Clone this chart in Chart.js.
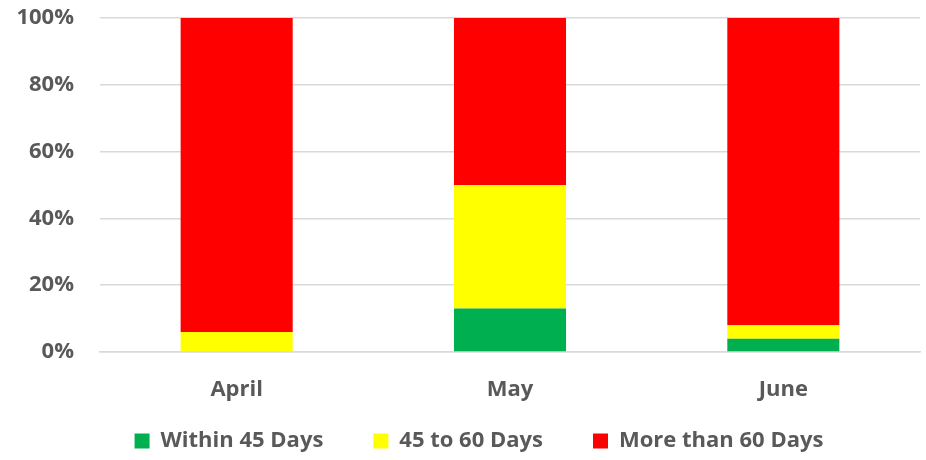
<!DOCTYPE html>
<html lang="en">
<head>
  <meta charset="UTF-8">
  <title>Days to close</title>
  <script src="https://cdn.jsdelivr.net/npm/chart.js@4.4.1/dist/chart.umd.min.js"></script>
  <style>
    html, body { margin: 0; padding: 0; background: #fff; }
    .chart-container { width: 926px; height: 460px; }
  </style>
</head>
<body>
  <div class="chart-container">
    <canvas id="barChart"></canvas>
  </div>
  <script>
    // months on the x axis
    var months = ['April', 'May', 'June'];
    // share of items in each bucket, percent
    var within45 = [0, 13, 4];
    var from45to60 = [6, 37, 4];
    var over60 = [94, 50, 92];
    var yTicks = [0, 20, 40, 60, 80, 100];

    var ctx = document.getElementById('barChart').getContext('2d');
    var labelFont = { family: '"Open Sans", sans-serif', size: 22, weight: 'bold' };

    // fixed legend height so the plot keeps its room,
    // and the legend row sits a bit right of the page centre
    var legendPlace = {
      id: 'legendPlace',
      beforeInit: function (chart) {
        var fit = chart.legend.fit;
        chart.legend.fit = function () {
          fit.bind(chart.legend)();
          this.height = 80;
        };
      },
      afterLayout: function (chart) {
        chart.legend.left += 38;
      }
    };

    new Chart(ctx, {
      type: 'bar',
      data: {
        labels: months,
        datasets: [
          { label: 'Within 45 Days', data: within45, backgroundColor: '#00b050' },
          { label: '45 to 60 Days', data: from45to60, backgroundColor: '#ffff00' },
          { label: 'More than 60 Days', data: over60, backgroundColor: '#ff0000' }
        ]
      },
      options: {
        responsive: true,
        maintainAspectRatio: false,
        animation: false,
        layout: { padding: { top: 0, right: 6, left: 0, bottom: 0 } },
        datasets: {
          bar: { categoryPercentage: 1, barPercentage: 0.41 }
        },
        plugins: {
          tooltip: { enabled: false },
          legend: {
            position: 'bottom',
            labels: {
              color: '#595959',
              font: labelFont,
              boxWidth: 15,
              boxHeight: 15,
              padding: 50
            }
          }
        },
        scales: {
          x: {
            stacked: true,
            grid: { display: false },
            border: { color: '#d9d9d9', width: 1.5 },
            ticks: { color: '#595959', font: labelFont, padding: 17 },
            afterFit: function (axis) {
              axis.height = 28;
              // labels hang below the axis box, so do not clip them to it
              axis._computeLabelArea = function () {};
            }
          },
          y: {
            stacked: true,
            min: 0,
            max: 100,
            afterBuildTicks: function (axis) {
              axis.ticks = yTicks.map(function (v) { return { value: v }; });
            },
            grid: { color: '#d9d9d9', lineWidth: 1.5, drawTicks: false },
            border: { display: false },
            ticks: {
              color: '#595959',
              font: labelFont,
              padding: 26,
              callback: function (v) { return v + '%'; }
            },
            afterFit: function (axis) {
              axis.width = 100;
              axis.paddingTop = 18;
              axis.paddingBottom = 0;
            }
          }
        }
      },
      plugins: [legendPlace]
    });
  </script>
</body>
</html>
